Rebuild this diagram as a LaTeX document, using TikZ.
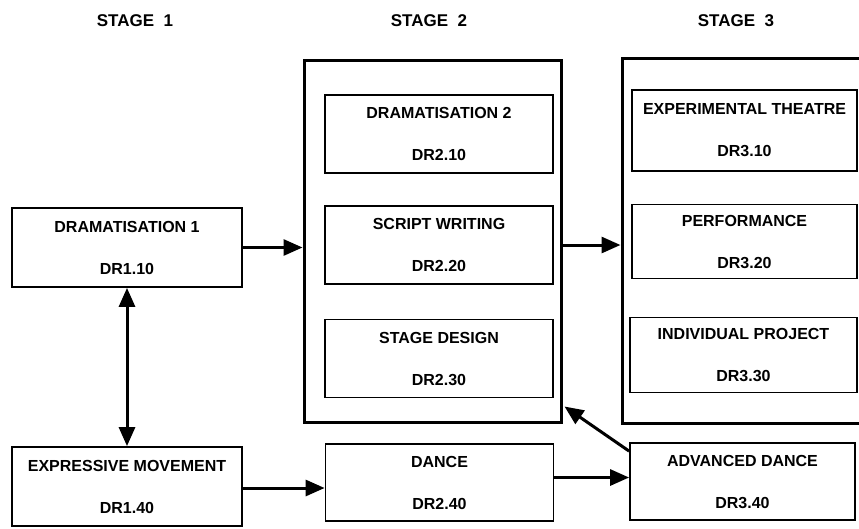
\documentclass[tikz,border=0pt]{standalone}
\usepackage{fontspec}
\setmainfont{Liberation Sans}
\usetikzlibrary{arrows.meta}

\begin{document}
\begin{tikzpicture}[x=1pt,y=-1pt,
  course/.style={draw,line width=1.8pt,align=center,inner sep=0pt,
    minimum width=228pt,minimum height=78pt,
    font=\fontsize{16}{42}\selectfont\bfseries},
  stagebox/.style={draw,line width=3pt,inner sep=0pt},
  stagelabel/.style={font=\fontsize{17}{20}\selectfont\bfseries},
  flow/.style={-{Triangle[length=19pt,width=16pt]},line width=3pt}]

\clip (0,0) rectangle (859,528);

% stage titles
\node[stagelabel] (Stage1) at (135,21) {STAGE\ \ 1};
\node[stagelabel] (Stage2) at (429,21) {STAGE\ \ 2};
\node[stagelabel] (Stage3) at (736,21) {STAGE\ \ 3};

% 1
\node[course,minimum width=230pt,minimum height=79pt] (CourseA1) at (127,247.5) {DRAMATISATION 1\\DR1.10};
\node[course,minimum width=230pt,minimum height=79pt] (CourseA4) at (127,486.5) {EXPRESSIVE MOVEMENT\\DR1.40};

% 2
\node[stagebox,minimum width=257pt,minimum height=362pt] (Box2) at (432.5,241) {};
\node[course] (CourseB1) at (439,134) {DRAMATISATION 2\\DR2.10};
\node[course] (CourseB2) at (439,245) {SCRIPT WRITING\\DR2.20};
\node[course] (CourseB3) at (439,358.5) {STAGE DESIGN\\DR2.30};
\node[course,minimum height=77pt] (CourseB4) at (439.5,482.5) {DANCE\\DR2.40};

% 3
\node[stagebox,minimum width=262pt,minimum height=365pt] (Box3) at (753,240.5) {};
\node[course,minimum width=225pt,minimum height=81pt] (CourseC1) at (744.5,130.5) {EXPERIMENTAL THEATRE\\DR3.10};
\node[course,minimum width=225pt,minimum height=74pt] (CourseC2) at (744.5,241.5) {PERFORMANCE\\DR3.20};
\node[course,minimum width=227pt,minimum height=75pt] (CourseC3) at (743.5,355) {INDIVIDUAL PROJECT\\DR3.30};
\node[course,minimum width=225pt,minimum height=77pt] (CourseC4) at (742.5,481.5) {ADVANCED DANCE\\DR3.40};

\coordinate (Corner2) at ([xshift=2pt,yshift=17pt]Box2.south east);


\draw[flow] (CourseA1.east) to (Box2.west |- CourseA1.east);
\draw[flow] (Box2.east |- CourseB2.east) to (Box3.west |- CourseB2.east);
\draw[flow,{Triangle[length=19pt,width=16pt]}-{Triangle[length=19pt,width=16pt]}] (CourseA1.south) to (CourseA4.north);
\draw[flow] ([yshift=-1.5pt]CourseA4.east) to ([yshift=-1.5pt]CourseA4.east -| CourseB4.west);
\draw[flow] ([yshift=5pt]CourseB4.east) to ([yshift=5pt]CourseB4.east -| CourseC4.west);
\draw[flow] (CourseC4.165) to (Corner2);

\end{tikzpicture}
\end{document}
